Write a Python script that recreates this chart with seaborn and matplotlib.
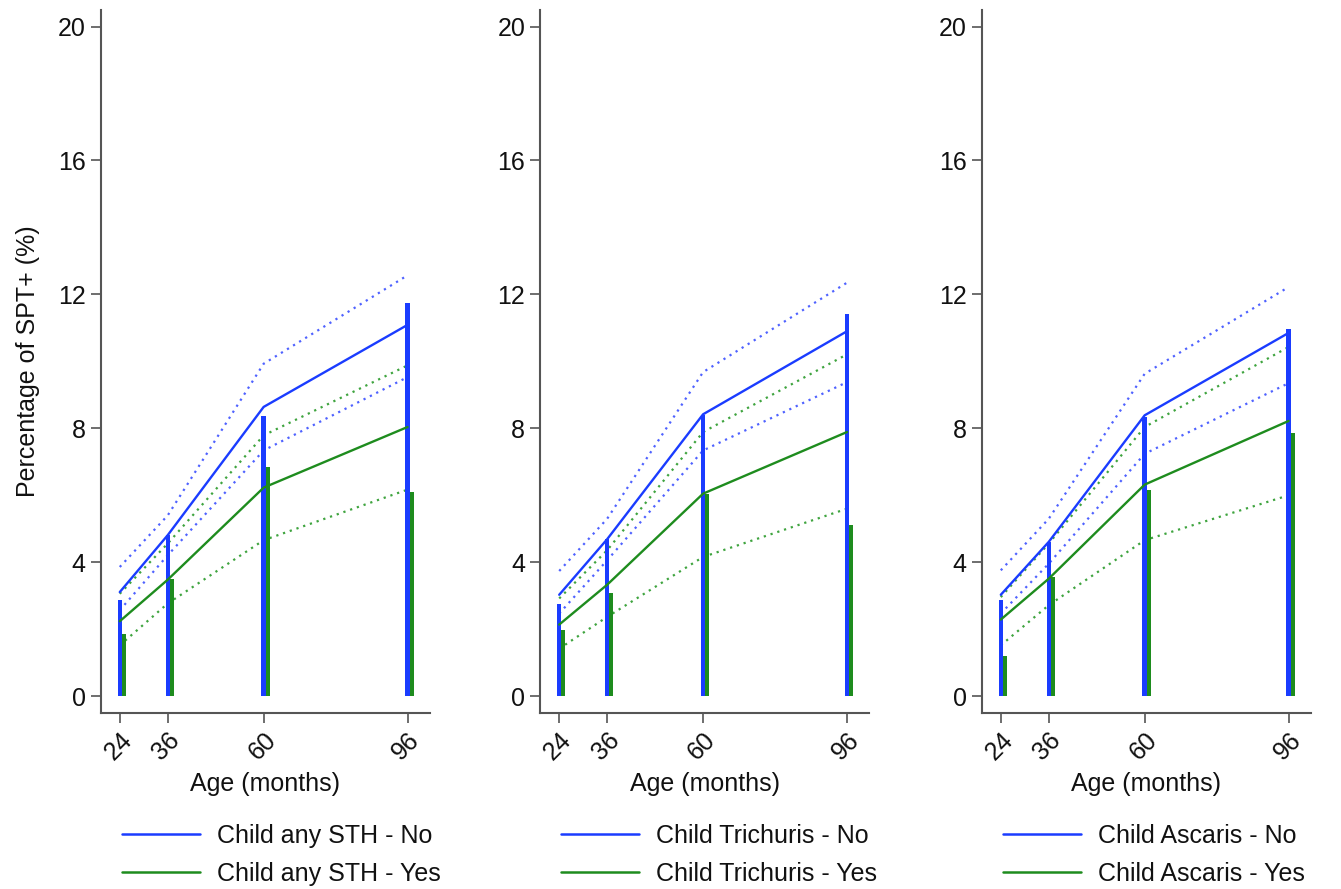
import matplotlib
matplotlib.use("Agg")
import matplotlib.pyplot as plt
from matplotlib.lines import Line2D
import numpy as np
import pandas as pd
import seaborn as sns

ages = [24, 36, 60, 96]
panel_names = ["Child any STH", "Child Trichuris", "Child Ascaris"]

# observed percentages (bars)
bar_no = [
    [2.87, 4.81, 8.37, 11.75],
    [2.74, 4.69, 8.41, 11.42],
    [2.87, 4.61, 8.34, 10.96],
]
bar_yes = [
    [1.85, 3.51, 6.86, 6.10],
    [1.97, 3.08, 6.05, 5.10],
    [1.20, 3.56, 6.15, 7.86],
]

# fitted values
fit_no = [
    [3.11, 4.81, 8.64, 11.09],
    [3.03, 4.69, 8.42, 10.90],
    [3.03, 4.61, 8.39, 10.85],
]
fit_yes = [
    [2.24, 3.48, 6.23, 8.04],
    [2.14, 3.33, 6.05, 7.89],
    [2.29, 3.51, 6.32, 8.22],
]

# confidence bounds
ci_no_hi = [
    [3.86, 5.40, 9.93, 12.57],
    [3.74, 5.30, 9.68, 12.35],
    [3.76, 5.30, 9.63, 12.22],
]
ci_no_lo = [
    [2.57, 4.21, 7.34, 9.53],
    [2.47, 4.06, 7.34, 9.38],
    [2.47, 3.96, 7.24, 9.35],
]
ci_yes_hi = [
    [3.06, 4.56, 7.79, 9.88],
    [2.92, 4.36, 7.89, 10.21],
    [2.96, 4.56, 8.04, 10.43],
]
ci_yes_lo = [
    [1.52, 2.77, 4.66, 6.17],
    [1.42, 2.37, 4.16, 5.60],
    [1.52, 2.72, 4.66, 6.00],
]

y_ticks = [0, 4, 8, 12, 16, 20]

BLUE = "#1a3cff"
GREEN = "#1e8c1e"
AXIS_GREY = "#555555"

sns.set_theme(style="white")
plt.rcParams["font.family"] = ["Liberation Sans", "DejaVu Sans"]

fig = plt.figure(figsize=(13.41, 8.89), dpi=100)
lefts = [0.0753, 0.4030, 0.7323]
width = 0.2450
bottom, height = 0.198, 0.791

for i, name in enumerate(panel_names):
    ax = fig.add_axes([lefts[i], bottom, width, height])

    x = np.array(ages, dtype=float)
    ax.bar(x + 0.95, bar_yes[i], width=1.1, color=GREEN, linewidth=0, zorder=2)
    ax.bar(x, bar_no[i], width=1.1, color=BLUE, linewidth=0, zorder=3)

    fit_df = pd.DataFrame({
        "age": ages * 2,
        "pct": fit_no[i] + fit_yes[i],
        "group": ["No"] * 4 + ["Yes"] * 4,
    })
    sns.lineplot(data=fit_df, x="age", y="pct", hue="group",
                 palette={"No": BLUE, "Yes": GREEN}, linewidth=1.7,
                 legend=False, ax=ax, zorder=4)

    ci_df = pd.DataFrame({
        "age": ages * 4,
        "pct": ci_no_hi[i] + ci_no_lo[i] + ci_yes_hi[i] + ci_yes_lo[i],
        "group": ["No"] * 8 + ["Yes"] * 8,
        "bound": ["hi"] * 4 + ["lo"] * 4 + ["hi"] * 4 + ["lo"] * 4,
    })
    sns.lineplot(data=ci_df, x="age", y="pct", hue="group", units="bound",
                 estimator=None, palette={"No": "#4f62ff", "Yes": "#3fa43f"},
                 linewidth=1.6, dashes=False, legend=False, ax=ax, zorder=1)
    for ln in ax.lines[2:]:
        ln.set_linestyle((0, (1, 2.2)))

    ax.set_xlim(19.3, 101.5)
    ax.set_ylim(-0.5, 20.5)
    ax.set_xticks(ages)
    ax.set_xticklabels([str(a) for a in ages], rotation=45, ha="right",
                       rotation_mode="anchor", fontsize=18)
    ax.set_yticks(y_ticks)
    ax.set_yticklabels([str(t) for t in y_ticks], fontsize=18)
    ax.tick_params(axis="both", direction="out", length=7, width=1.2,
                   color=AXIS_GREY, pad=4, left=True, bottom=True,
                   labelcolor="#111111")
    ax.set_xlabel("Age (months)", fontsize=18, labelpad=5, color="#111111")
    if i == 0:
        ax.set_ylabel("Percentage of SPT+ (%)", fontsize=18, labelpad=13,
                      color="#111111")
    else:
        ax.set_ylabel("")

    for side in ["top", "right"]:
        ax.spines[side].set_visible(False)
    for side in ["left", "bottom"]:
        ax.spines[side].set_color(AXIS_GREY)
        ax.spines[side].set_linewidth(1.5)

    handles = [
        Line2D([0], [0], color=BLUE, lw=1.8),
        Line2D([0], [0], color=GREEN, lw=1.8),
    ]
    leg = ax.legend(handles, [f"{name} - No", f"{name} - Yes"],
                    loc="upper left", bbox_to_anchor=(0.064, -0.158),
                    frameon=False, fontsize=18, handlelength=3.1,
                    handletextpad=0.7, labelspacing=0.55,
                    borderpad=0, borderaxespad=0)
    for t in leg.get_texts():
        t.set_color("#111111")

fig.savefig("out.png", dpi=100)
plt.close(fig)
